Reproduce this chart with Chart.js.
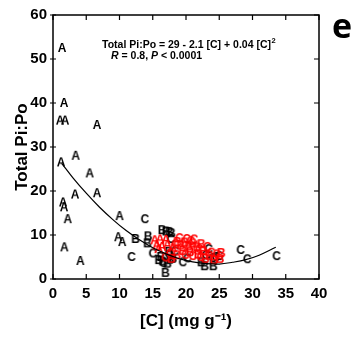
<!DOCTYPE html>
<html>
<head>
<meta charset="utf-8">
<script src="https://cdn.jsdelivr.net/npm/chart.js@4.4.0/dist/chart.umd.min.js"></script>
<style>
  html, body { margin: 0; padding: 0; background: #fff; }
  canvas { display: block; }
</style>
</head>
<body>
<canvas id="myChart" width="354" height="337"></canvas>
<script>
// axis ticks
var xTicks = [0, 5, 10, 15, 20, 25, 30, 35, 40];
var yTicks = [0, 10, 20, 30, 40, 50, 60];

// black letters
var blackAx = [1.35, 1.65, 1.05, 1.8, 6.6, 3.4, 1.2, 5.5, 3.3, 6.6, 1.5, 1.65, 2.2, 10.0, 1.7, 4.1, 9.8, 10.4];
var blackAy = [52.5, 40, 36, 36, 35, 28, 26.5, 24, 19.2, 19.5, 17.4, 16.3, 13.6, 14.3, 7.2, 4.1, 9.5, 8.4];
var blackBx = [12.4, 14.3, 14.2, 16.4, 17.0, 17.5, 17.8, 15.9, 16.5, 16.9, 17.2, 17.6, 16.2, 18.0, 22.3, 22.8, 24.1, 17.4];
var blackBy = [9.1, 9.7, 8.1, 11.1, 10.8, 10.7, 10.4, 4.3, 4.0, 1.4, 3.5, 4.4, 5.0, 4.6, 3.8, 2.9, 2.9, 6.2];
var blackCx = [13.8, 11.8, 17.7, 15.0, 18.3, 19.5, 20.2, 23.0, 23.4, 24.0, 24.5, 25.0, 28.2, 29.2, 33.6, 17.5, 16.6];
var blackCy = [13.6, 5.0, 9.1, 5.8, 6.3, 3.8, 4.7, 5.4, 6.8, 4.8, 5.0, 5.2, 6.6, 4.5, 5.2, 5.6, 3.6];

// red letters
var redAx = [15.3, 16.1, 17.0, 15.6, 16.4, 17.2, 15.9, 18.0];
var redAy = [8.8, 9.0, 8.9, 7.6, 7.3, 7.7, 6.8, 7.0];
var redBx = [18.7, 19.2, 19.8, 20.4, 21.0, 21.6, 22.3, 19.5, 20.6, 21.8, 22.6, 23.5, 18.6, 17.8, 22.9, 24.2, 25.1, 25.3];
var redBy = [8.4, 7.6, 8.3, 7.4, 8.1, 7.2, 7.9, 6.4, 6.1, 5.6, 6.4, 5.3, 5.4, 4.6, 4.6, 4.3, 4.6, 5.9];
var redCx = [19.0, 20.1, 21.2, 22.0, 19.9, 21.0, 22.2, 23.8, 24.6, 18.4, 20.7, 23.2, 17.6, 16.9];
var redCy = [9.3, 9.1, 9.0, 6.8, 5.5, 5.2, 5.0, 6.0, 5.6, 7.9, 8.6, 7.3, 5.8, 4.9];

// fitted curve
var curveX = [1.3, 3, 5, 7, 9, 11, 13, 15, 17, 19, 21, 23, 25, 27, 29, 31, 33.5];
var curveY = [26.3, 23.0, 19.5, 16.3, 13.5, 11.0, 8.9, 7.1, 5.7, 4.6, 3.9, 3.5, 3.4, 3.8, 4.4, 5.4, 7.2];

function pts(xs, ys) {
  return xs.map(function (x, i) { return { x: x, y: ys[i] }; });
}

function letter(ch, color, size) {
  var c = document.createElement("canvas");
  c.width = 16;
  c.height = 16;
  var g = c.getContext("2d");
  g.font = "bold " + size + "px 'Liberation Sans', Arial, sans-serif";
  g.fillStyle = color;
  g.textAlign = "center";
  g.textBaseline = "middle";
  g.fillText(ch, 8, 8.5);
  return c;
}

function scatter(xs, ys, ch, color, size) {
  return {
    type: "scatter",
    data: pts(xs, ys),
    pointStyle: letter(ch, color, size),
    pointRadius: 6,
    pointHoverRadius: 6
  };
}

var framePlugin = {
  id: "frame",
  afterDraw: function (chart) {
    var ctx = chart.ctx;
    var a = chart.chartArea;
    var xs = chart.scales.x, ys = chart.scales.y;
    ctx.save();
    ctx.strokeStyle = "#000";
    ctx.lineWidth = 1.5;
    ctx.strokeRect(a.left, a.top, a.right - a.left, a.bottom - a.top);
    ctx.lineWidth = 1.2;
    ctx.beginPath();
    xTicks.forEach(function (v) {
      var p = xs.getPixelForValue(v);
      ctx.moveTo(p, a.bottom); ctx.lineTo(p, a.bottom - 5);
      ctx.moveTo(p, a.top); ctx.lineTo(p, a.top + 5);
    });
    yTicks.forEach(function (v) {
      var p = ys.getPixelForValue(v);
      ctx.moveTo(a.left - 3, p); ctx.lineTo(a.left + 3, p);
      ctx.moveTo(a.right, p); ctx.lineTo(a.right - 5, p);
    });
    ctx.stroke();

    // equation
    ctx.fillStyle = "#000";
    ctx.textBaseline = "alphabetic";
    ctx.textAlign = "left";
    var f = "'Liberation Sans', Arial, sans-serif";
    var x0 = a.left + 49, y0 = a.top + 33;
    ctx.font = "bold 10.5px " + f;
    var s1 = "Total Pi:Po = 29 - 2.1 [C] + 0.04 [C]";
    ctx.fillText(s1, x0, y0);
    var w1 = ctx.measureText(s1).width;
    ctx.font = "bold 7.5px " + f;
    ctx.fillText("2", x0 + w1 + 0.5, y0 - 5);

    var x1 = a.left + 58, y1 = a.top + 44;
    var parts = [["R", true], [" = 0.8, ", false], ["P", true], [" < 0.0001", false]];
    parts.forEach(function (p) {
      ctx.font = (p[1] ? "italic " : "") + "bold 10.5px " + f;
      ctx.fillText(p[0], x1, y1);
      x1 += ctx.measureText(p[0]).width;
    });

    // panel letter
    ctx.font = "bold 34px 'Open Sans', sans-serif";
    ctx.fillText("e", 332, 38);
    ctx.restore();
  }
};

var tickFont = { family: "'Liberation Sans', Arial, sans-serif", size: 15, weight: "bold" };
var titleFont = { family: "'Liberation Sans', Arial, sans-serif", size: 17, weight: "bold" };

var chart = document.getElementById("myChart").getContext("2d");
var myChart = new Chart(chart, {
  data: {
    datasets: [
      {
        type: "line",
        data: pts(curveX, curveY),
        borderColor: "#000",
        borderWidth: 1.2,
        pointRadius: 0,
        tension: 0.4,
        fill: false
      },
      scatter(redAx, redAy, "A", "#ff0000", 13),
      scatter(redBx, redBy, "B", "#ff0000", 12),
      scatter(redCx, redCy, "C", "#ff0000", 12),
      scatter(blackAx, blackAy, "A", "#000", 12),
      scatter(blackBx, blackBy, "B", "#000", 12),
      scatter(blackCx, blackCy, "C", "#000", 12)
    ]
  },
  options: {
    responsive: false,
    animation: false,
    layout: { padding: { left: 0, top: 14, right: 35, bottom: 0 } },
    plugins: { legend: { display: false }, tooltip: { enabled: false } },
    scales: {
      x: {
        type: "linear",
        min: 0,
        max: 40,
        afterBuildTicks: function (s) { s.ticks = xTicks.map(function (v) { return { value: v }; }); },
        afterFit: function (s) { s.height = 58; },
        grid: { display: false, drawTicks: false },
        border: { display: false },
        ticks: { font: tickFont, color: "#000", padding: 6, maxRotation: 0 },
        title: { display: true, text: "[C] (mg g\u207B\u00B9)", font: titleFont, color: "#000", padding: { top: 0, bottom: 5 } }
      },
      y: {
        type: "linear",
        min: 0,
        max: 60,
        afterBuildTicks: function (s) { s.ticks = yTicks.map(function (v) { return { value: v }; }); },
        afterFit: function (s) { s.width = 53; },
        grid: { display: false, drawTicks: false },
        border: { display: false },
        ticks: { font: tickFont, color: "#000", padding: 6 },
        title: { display: true, text: "Total Pi:Po", font: titleFont, color: "#000", padding: { top: 12, bottom: 0 } }
      }
    }
  },
  plugins: [framePlugin]
});
</script>
</body>
</html>
